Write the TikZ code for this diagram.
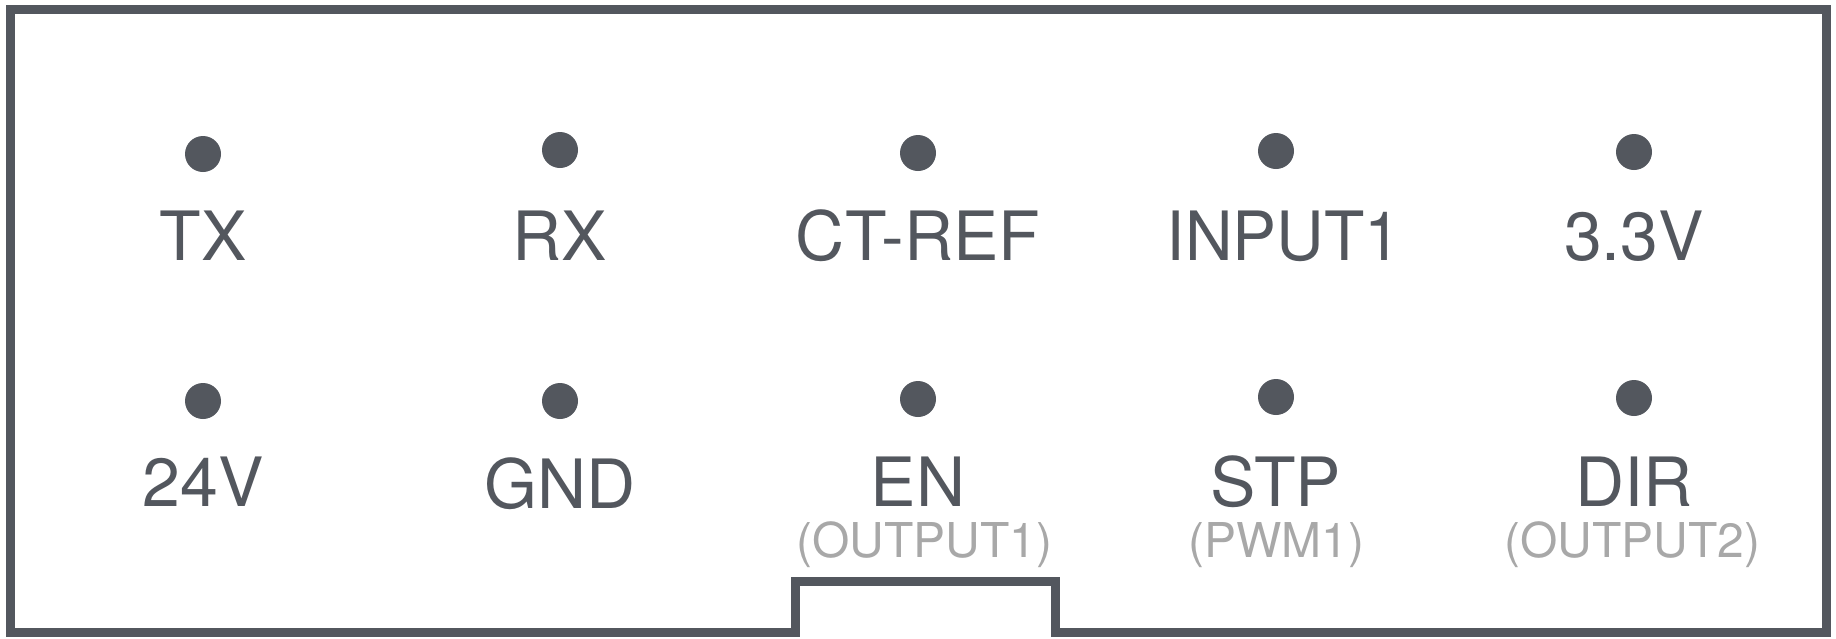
\documentclass[tikz,border=0pt]{standalone}
\usepackage{fontspec}
\setmainfont{TeX Gyre Heros}
\definecolor{pin}{HTML}{53575E}
\definecolor{subgray}{HTML}{A8A8A8}
\begin{document}
\begin{tikzpicture}[x=1pt,y=-1pt,
  dot/.style={circle,fill=pin,inner sep=0pt,minimum size=36pt},
  lbl/.style={anchor=base,inner sep=0pt,text=pin,font=\fontsize{68}{80}\selectfont},
  sublbl/.style={anchor=base,inner sep=0pt,text=subgray,font=\fontsize{48}{56}\selectfont},
  frame/.style={draw=pin,line width=9pt}]
\useasboundingbox (0,0) rectangle (1836,638);
\draw[frame] (10,9.5) -- (1826,9.5) -- (1826,632) -- (1055,632) -- (1055,581)
  -- (795,581) -- (795,632) -- (10,632) -- cycle;
% top row
\node[dot] (dTX) at (203,154) {};
\node[dot] (dRX) at (560,150) {};
\node[dot] (dCT) at (918,153) {};
\node[dot] (dIN) at (1276,151) {};
\node[dot] (dV3) at (1634,152) {};
\node[lbl] (tTX) at (203,260) {TX};
\node[lbl] (tRX) at (560,260) {RX};
\node[lbl] (tCT) at (918,260) {CT-REF};
\node[lbl,xscale=0.97] (tIN) at (1284,260) {INPUT1};
\node[lbl] (tV3) at (1634,260) {3.3V};
% bottom row
\node[dot] (dV24) at (203,401) {};
\node[dot] (dGND) at (560,401) {};
\node[dot] (dEN) at (918,399) {};
\node[dot] (dSTP) at (1276,397) {};
\node[dot] (dDIR) at (1634,398) {};
\node[lbl] (tV24) at (203,506) {24V};
\node[lbl] (tGND) at (560,508) {GND};
\node[lbl] (tEN) at (918,506) {EN};
\node[lbl] (tSTP) at (1276,506) {STP};
\node[lbl] (tDIR) at (1634,506) {DIR};
\node[sublbl] (sEN) at (924,557) {(OUTPUT1)};
\node[sublbl] (sSTP) at (1276,557) {(PWM1)};
\node[sublbl] (sDIR) at (1632,557) {(OUTPUT2)};
\end{tikzpicture}
\end{document}
